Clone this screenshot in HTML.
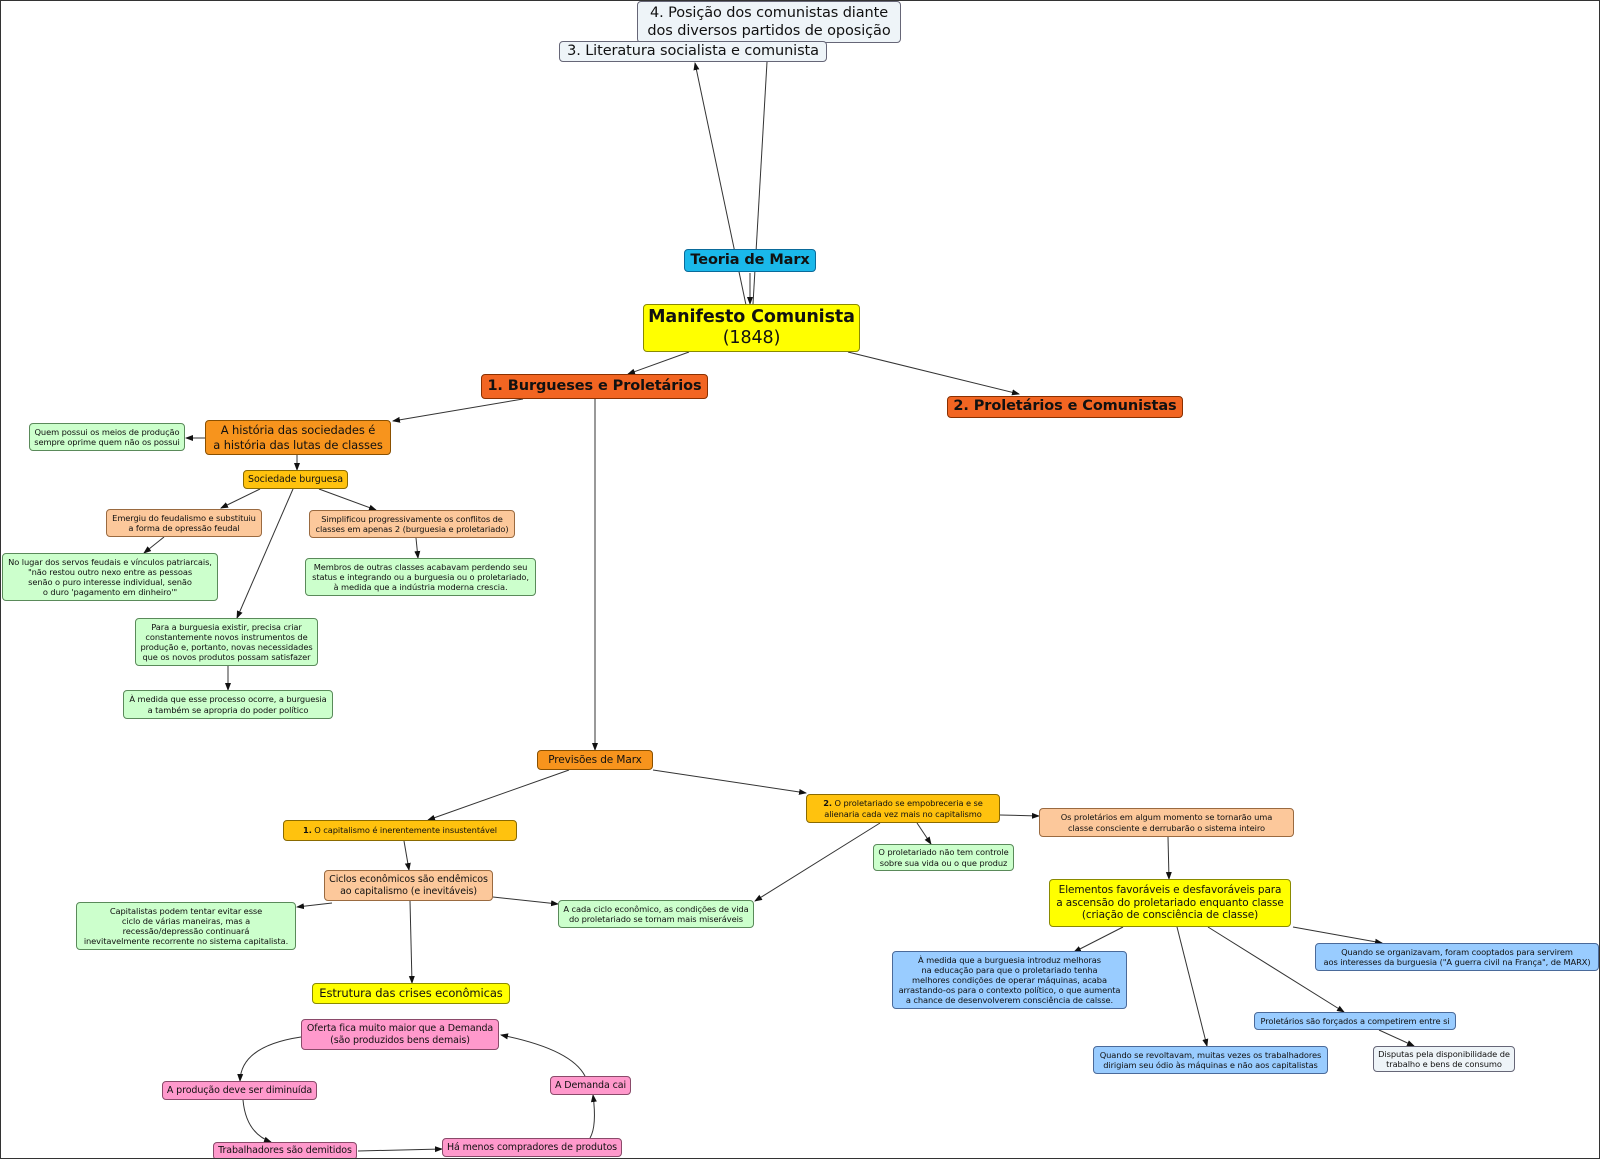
<!DOCTYPE html>
<html><head><meta charset="utf-8"><style>
body{margin:0;background:#fff}
#c{position:relative;width:1598px;height:1157px;border:1px solid #333;overflow:hidden;background:#fff;font-family:"DejaVu Sans","Liberation Sans",sans-serif}
.b{position:absolute;box-sizing:border-box;border:1px solid #555;border-radius:4px;display:flex;align-items:center;justify-content:center;text-align:center;font-size:8.3px;line-height:1.22;color:#111;white-space:nowrap;letter-spacing:-0.1px}
.g{background:#ccffcc;border-color:#5a8a5a}
.p{background:#fcc89b;border-color:#9a6a40}
.y{background:#ffc20e;border-color:#8a6a00}
.o{background:#f7941d;border-color:#8a5000}
.r{background:#f26522;border-color:#8a3000}
.k{background:#ff99cc;border-color:#8a4a6a}
.u{background:#99ccff;border-color:#4a6a9a}
.w{background:#eef4f8;border-color:#667}
.yy{background:#ffff00;border-color:#8a8a00}
svg{position:absolute;left:0;top:0}
</style></head><body><div id="c">
<svg width="1600" height="1159">
<defs><marker id="a" markerWidth="8" markerHeight="8" refX="7" refY="4" orient="auto" markerUnits="userSpaceOnUse"><path d="M0,1 L8,4 L0,7z" fill="#111"/></marker></defs>
<line x1="752" y1="303" x2="766" y2="61" stroke="#333" stroke-width="1"/>
<g stroke="#333" stroke-width="1" fill="none" marker-end="url(#a)">
<line x1="745" y1="304" x2="694" y2="62"/>
<line x1="749" y1="272" x2="749" y2="303"/>
<line x1="688" y1="351" x2="627" y2="373"/>
<line x1="847" y1="351" x2="1018" y2="393"/>
<line x1="522" y1="398" x2="392" y2="420"/>
<line x1="594" y1="398" x2="594" y2="749"/>
<line x1="204" y1="437" x2="185" y2="437"/>
<line x1="296" y1="454" x2="296" y2="469"/>
<line x1="259" y1="488" x2="220" y2="507"/>
<line x1="318" y1="488" x2="375" y2="509"/>
<line x1="292" y1="488" x2="236" y2="617"/>
<line x1="163" y1="536" x2="143" y2="552"/>
<line x1="415" y1="537" x2="417" y2="557"/>
<line x1="227" y1="665" x2="227" y2="689"/>
<line x1="568" y1="769" x2="427" y2="819"/>
<line x1="652" y1="769" x2="805" y2="792"/>
<line x1="403" y1="840" x2="408" y2="869"/>
<line x1="331" y1="902" x2="296" y2="906"/>
<line x1="492" y1="896" x2="557" y2="903"/>
<line x1="409" y1="900" x2="411" y2="982"/>
<line x1="879" y1="822" x2="754" y2="900"/>
<line x1="916" y1="822" x2="930" y2="843"/>
<line x1="999" y1="814" x2="1038" y2="815"/>
<line x1="1167" y1="836" x2="1168" y2="878"/>
<line x1="1122" y1="926" x2="1073" y2="951"/>
<line x1="1176" y1="926" x2="1206" y2="1045"/>
<line x1="1207" y1="926" x2="1343" y2="1011"/>
<line x1="1292" y1="926" x2="1381" y2="942"/>
<line x1="1378" y1="1029" x2="1413" y2="1045"/>
<path d="M300,1036 Q240,1045 239,1080"/>
<path d="M242,1099 Q245,1132 270,1141"/>
<line x1="357" y1="1150" x2="441" y2="1148"/>
<path d="M589,1137 Q596,1125 592,1094"/>
<path d="M584,1075 Q570,1048 500,1034"/>
</g>
</svg>
<div class="b w" style="left:636px;top:0;width:264px;height:42px;font-size:14.5px;line-height:1.25">4. Posição dos comunistas diante<br>dos diversos partidos de oposição</div>
<div class="b w" style="left:558px;top:40px;width:268px;height:21px;font-size:14.5px">3. Literatura socialista e comunista</div>
<div class="b" style="left:683px;top:248px;width:132px;height:23px;background:#1ab8ea;border-color:#0a6a9a;font-size:14.5px;font-weight:bold">Teoria de Marx</div>
<div class="b yy" style="left:642px;top:303px;width:217px;height:48px;font-size:17.5px;line-height:1.2"><div><b>Manifesto Comunista</b><br>(1848)</div></div>
<div class="b r" style="left:480px;top:373px;width:227px;height:25px;font-size:14.5px;font-weight:bold">1. Burgueses e Proletários</div>
<div class="b r" style="left:946px;top:395px;width:236px;height:22px;font-size:14.5px;font-weight:bold">2. Proletários e Comunistas</div>
<div class="b o" style="left:204px;top:419px;width:186px;height:35px;font-size:11.5px">A história das sociedades é<br>a história das lutas de classes</div>
<div class="b g" style="left:28px;top:422px;width:156px;height:28px">Quem possui os meios de produção<br>sempre oprime quem não os possui</div>
<div class="b y" style="left:242px;top:469px;width:105px;height:19px;font-size:9.5px">Sociedade burguesa</div>
<div class="b p" style="left:105px;top:508px;width:156px;height:28px">Emergiu do feudalismo e substituiu<br>a forma de opressão feudal</div>
<div class="b p" style="left:308px;top:509px;width:206px;height:28px">Simplificou progressivamente os conflitos de<br>classes em apenas 2 (burguesia e proletariado)</div>
<div class="b g" style="left:1px;top:552px;width:216px;height:48px">No lugar dos servos feudais e vínculos patriarcais,<br>"não restou outro nexo entre as pessoas<br>senão o puro interesse individual, senão<br>o duro 'pagamento em dinheiro'"</div>
<div class="b g" style="left:304px;top:557px;width:231px;height:38px">Membros de outras classes acabavam perdendo seu<br>status e integrando ou a burguesia ou o proletariado,<br>à medida que a indústria moderna crescia.</div>
<div class="b g" style="left:134px;top:617px;width:183px;height:48px">Para a burguesia existir, precisa criar<br>constantemente novos instrumentos de<br>produção e, portanto, novas necessidades<br>que os novos produtos possam satisfazer</div>
<div class="b g" style="left:122px;top:689px;width:210px;height:29px">À medida que esse processo ocorre, a burguesia<br>a também se apropria do poder político</div>
<div class="b o" style="left:536px;top:749px;width:116px;height:20px;font-size:10.5px">Previsões de Marx</div>
<div class="b y" style="left:282px;top:819px;width:234px;height:21px"><span><b>1.</b> O capitalismo é inerentemente insustentável</span></div>
<div class="b y" style="left:805px;top:793px;width:194px;height:29px"><span><b>2.</b> O proletariado se empobreceria e se<br>alienaria cada vez mais no capitalismo</span></div>
<div class="b p" style="left:1038px;top:807px;width:255px;height:29px">Os proletários em algum momento se tornarão uma<br>classe consciente e derrubarão o sistema inteiro</div>
<div class="b g" style="left:872px;top:843px;width:141px;height:27px">O proletariado não tem controle<br>sobre sua vida ou o que produz</div>
<div class="b p" style="left:323px;top:869px;width:169px;height:31px;font-size:9.5px">Ciclos econômicos são endêmicos<br>ao capitalismo (e inevitáveis)</div>
<div class="b g" style="left:75px;top:901px;width:220px;height:48px">Capitalistas podem tentar evitar esse<br>ciclo de várias maneiras, mas a<br>recessão/depressão continuará<br>inevitavelmente recorrente no sistema capitalista.</div>
<div class="b g" style="left:557px;top:899px;width:196px;height:28px">A cada ciclo econômico, as condições de vida<br>do proletariado se tornam mais miseráveis</div>
<div class="b yy" style="left:1048px;top:878px;width:242px;height:48px;font-size:10.5px">Elementos favoráveis e desfavoráveis para<br>a ascensão do proletariado enquanto classe<br>(criação de consciência de classe)</div>
<div class="b yy" style="left:311px;top:982px;width:198px;height:21px;font-size:11.5px">Estrutura das crises econômicas</div>
<div class="b u" style="left:891px;top:950px;width:235px;height:58px">À medida que a burguesia introduz melhoras<br>na educação para que o proletariado tenha<br>melhores condições de operar máquinas, acaba<br>arrastando-os para o contexto político, o que aumenta<br>a chance de desenvolverem consciência de calsse.</div>
<div class="b u" style="left:1314px;top:942px;width:284px;height:28px">Quando se organizavam, foram cooptados para servirem<br>aos interesses da burguesia ("A guerra civil na França", de MARX)</div>
<div class="b u" style="left:1253px;top:1011px;width:202px;height:18px">Proletários são forçados a competirem entre si</div>
<div class="b u" style="left:1092px;top:1045px;width:235px;height:28px">Quando se revoltavam, muitas vezes os trabalhadores<br>dirigiam seu ódio às máquinas e não aos capitalistas</div>
<div class="b w" style="left:1372px;top:1045px;width:142px;height:26px">Disputas pela disponibilidade de<br>trabalho e bens de consumo</div>
<div class="b k" style="left:300px;top:1018px;width:198px;height:31px;font-size:9.5px">Oferta fica muito maior que a Demanda<br>(são produzidos bens demais)</div>
<div class="b k" style="left:161px;top:1080px;width:155px;height:19px;font-size:9.5px">A produção deve ser diminuída</div>
<div class="b k" style="left:549px;top:1075px;width:81px;height:19px;font-size:9.5px">A Demanda cai</div>
<div class="b k" style="left:212px;top:1141px;width:144px;height:18px;font-size:9.5px">Trabalhadores são demitidos</div>
<div class="b k" style="left:441px;top:1137px;width:180px;height:19px;font-size:9.5px">Há menos compradores de produtos</div>
</div></body></html>
